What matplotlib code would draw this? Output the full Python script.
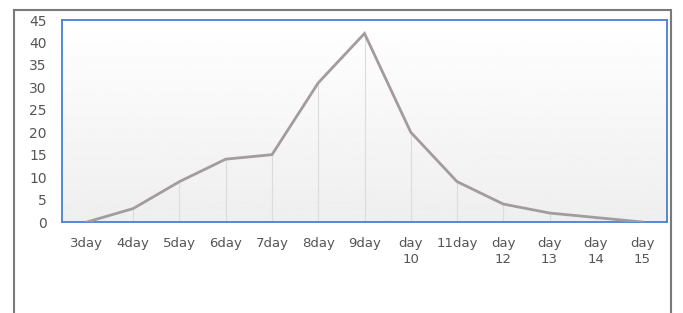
import matplotlib.pyplot as plt
import numpy as np
from matplotlib.patches import Rectangle

# data
days = ['3day', '4day', '5day', '6day', '7day', '8day', '9day',
        'day\n10', '11day', 'day\n12', 'day\n13', 'day\n14', 'day\n15']
counts = [0, 3, 9, 14, 15, 31, 42, 20, 9, 4, 2, 1, 0]
yticks = [0, 5, 10, 15, 20, 25, 30, 35, 40, 45]

plt.rcParams['font.family'] = ['DejaVu Sans']

fig = plt.figure(figsize=(6.83, 3.13), dpi=100)
ax = fig.add_axes([62 / 683, 1 - 222 / 313, 605 / 683, 202 / 313])

x = np.arange(len(days))

# background gradient (white at top -> light grey at bottom)
grad = np.linspace(1.0, 0.935, 256).reshape(-1, 1)
ax.imshow(grad, cmap='gray', vmin=0, vmax=1, aspect='auto',
          extent=(-0.54, len(days) - 0.46, 0, 45), origin='upper', zorder=0)

ax.vlines(x, 0, counts, color='#dcdcdc', lw=0.8, zorder=1)
ax.plot(x, counts, color='#a39c9c', lw=2, zorder=3, solid_joinstyle='miter')

ax.set_xlim(-0.54, len(days) - 0.46)
ax.set_ylim(0, 45)
ax.set_xticks(x)
ax.set_xticklabels(days, fontsize=9.5, color='#555555', linespacing=1.25)
ax.set_yticks(yticks)
ax.set_yticklabels([str(v) for v in yticks], fontsize=10, color='#555555')
ax.tick_params(length=0)
ax.tick_params(axis='x', pad=11)
ax.tick_params(axis='y', pad=11)
for s in ax.spines.values():
    s.set_color('#4a7fd4')
    s.set_linewidth(1.3)

# outer grey frame
fig.patches.append(Rectangle((14 / 683, -0.05), 657 / 683, 1.05 - 10 / 313,
                             transform=fig.transFigure, fill=False,
                             edgecolor='#7a7a7a', lw=1.5))

fig.savefig('out.png', dpi=100)
